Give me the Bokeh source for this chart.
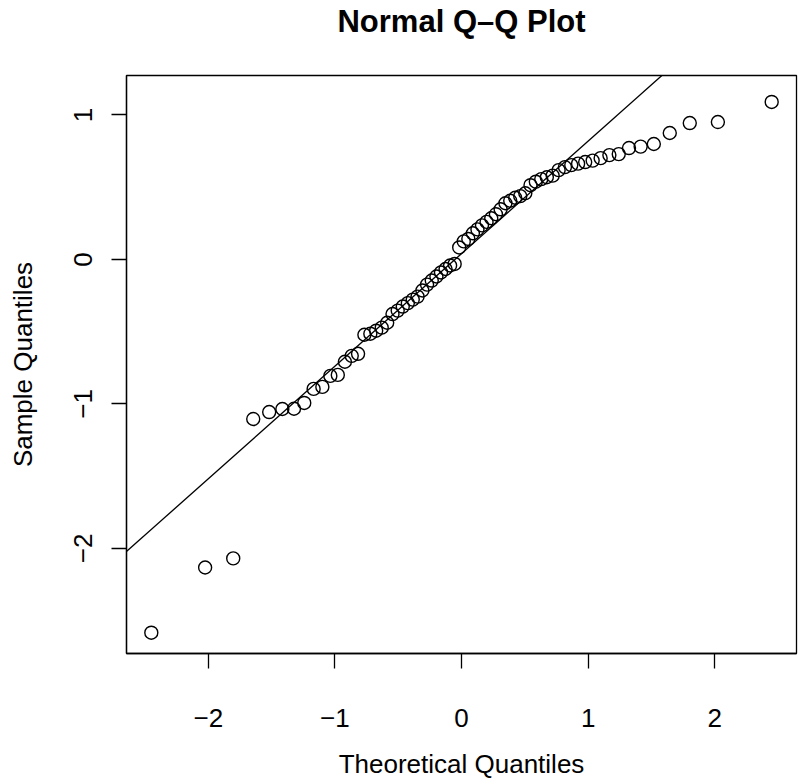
from bokeh.plotting import figure
from bokeh.models import Range1d, FixedTicker, Slope, LinearAxis
from bokeh.embed import file_html
from bokeh.resources import INLINE

# Theoretical normal quantiles (x) and sorted sample values (y)
theoretical = [-2.450, -2.025, -1.803, -1.645, -1.519, -1.415, -1.323, -1.242, -1.168, -1.099,
               -1.036, -0.977, -0.921, -0.867, -0.817, -0.767, -0.720, -0.674, -0.630, -0.587,
               -0.545, -0.504, -0.464, -0.424, -0.385, -0.347, -0.309, -0.272, -0.235, -0.198,
               -0.162, -0.126, -0.090, -0.054, -0.018, 0.018, 0.054, 0.090, 0.126, 0.162,
               0.198, 0.235, 0.272, 0.309, 0.347, 0.385, 0.424, 0.464, 0.504, 0.545,
               0.587, 0.630, 0.674, 0.720, 0.767, 0.817, 0.867, 0.921, 0.977, 1.036,
               1.099, 1.168, 1.242, 1.323, 1.415, 1.519, 1.645, 1.803, 2.025, 2.450]
sample = [-2.583, -2.132, -2.069, -1.104, -1.056, -1.035, -1.033, -0.993, -0.896, -0.882,
          -0.806, -0.799, -0.708, -0.667, -0.653, -0.521, -0.514, -0.493, -0.472, -0.438,
          -0.378, -0.354, -0.326, -0.302, -0.278, -0.257, -0.215, -0.174, -0.146, -0.118,
          -0.090, -0.066, -0.042, -0.031, 0.083, 0.125, 0.142, 0.181, 0.208, 0.236,
          0.260, 0.285, 0.313, 0.347, 0.389, 0.406, 0.427, 0.438, 0.458, 0.514,
          0.538, 0.556, 0.569, 0.580, 0.618, 0.639, 0.653, 0.663, 0.674, 0.684,
          0.701, 0.722, 0.729, 0.771, 0.781, 0.799, 0.875, 0.944, 0.951, 1.090]

# Reference line (qqline through the quartiles)
line_slope = 0.779
line_intercept = 0.040

x_ticks = [-2, -1, 0, 1, 2]
x_tick_labels = ["\u22122", "\u22121", "0", "1", "2"]
y_ticks = [-2, -1, 0, 1]
y_tick_labels = ["\u22122", "\u22121", "0", "1"]

title_text = "Normal Q\u2013Q Plot"
x_label = "Theoretical Quantiles"
y_label = "Sample Quantiles"

FONT = "Liberation Sans"
FW, FH = 670, 578

p = figure(frame_width=FW, frame_height=FH,
           x_range=Range1d(-2.646, 2.646), y_range=Range1d(-2.727, 1.273),
           output_backend="svg", toolbar_location=None,
           min_border_left=126, min_border_right=4, min_border_top=75, min_border_bottom=127)

p.background_fill_color = "white"
p.border_fill_color = "white"
p.xgrid.visible = False
p.ygrid.visible = False
p.outline_line_color = "black"
p.outline_line_width = 1.3

xa = p.below[0]
ya = p.left[0]
xa.ticker = FixedTicker(ticks=x_ticks)
xa.major_label_overrides = {v: s for v, s in zip(x_ticks, x_tick_labels)}
ya.ticker = FixedTicker(ticks=y_ticks)
ya.major_label_overrides = {v: s for v, s in zip(y_ticks, y_tick_labels)}
ya.major_label_orientation = "vertical"

for ax in (xa, ya):
    ax.minor_tick_line_color = None
    ax.major_tick_in = 0
    ax.major_tick_out = 15
    ax.major_tick_line_width = 1.3
    ax.major_tick_line_color = "black"
    ax.axis_line_width = 1.3
    ax.axis_line_color = "black"
    ax.major_label_text_font = FONT
    ax.major_label_text_font_size = "26px"
    ax.major_label_text_color = "black"
    ax.axis_label_text_font = FONT
    ax.axis_label_text_font_size = "26px"
    ax.axis_label_text_font_style = "normal"
    ax.axis_label_text_color = "black"

xa.axis_label = x_label
xa.major_label_standoff = 40
xa.axis_label_standoff = 19
ya.axis_label = y_label
ya.major_label_standoff = 19
ya.axis_label_standoff = 34

# Main title, placed as the label of a bare axis above the frame
top = LinearAxis(ticker=FixedTicker(ticks=[]), axis_label=title_text,
                 axis_line_color=None, major_tick_line_color=None, minor_tick_line_color=None,
                 major_tick_out=0, major_tick_in=0, minor_tick_out=0, minor_tick_in=0,
                 major_label_standoff=0, axis_label_standoff=37,
                 axis_label_text_font=FONT, axis_label_text_font_size="31px",
                 axis_label_text_font_style="bold", axis_label_text_color="black")
p.add_layout(top, "above")

p.add_layout(Slope(gradient=line_slope, y_intercept=line_intercept,
                   line_color="black", line_width=1.3))

p.scatter(theoretical, sample, marker="circle", size=13,
          fill_color=None, line_color="black", line_width=1.4)

open("out.html", "w").write(file_html(p, INLINE))
